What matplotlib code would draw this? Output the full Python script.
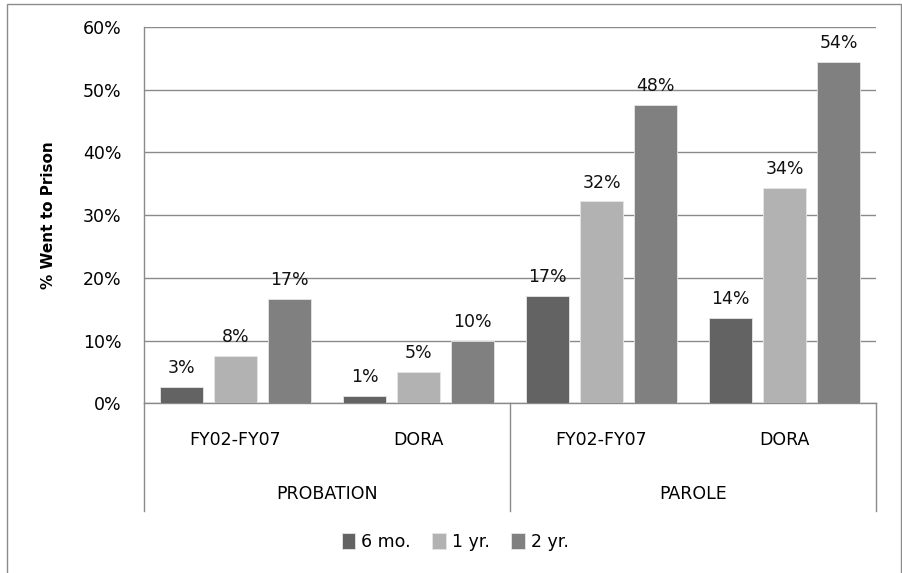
import numpy as np
import matplotlib
matplotlib.use("Agg")
import matplotlib.pyplot as plt
from matplotlib.patches import Rectangle
from matplotlib.ticker import FuncFormatter

# data
groups = ["PROBATION", "PAROLE"]
subgroups = ["FY02-FY07", "DORA", "FY02-FY07", "DORA"]
series = ["6 mo.", "1 yr.", "2 yr."]
six_mo = [2.6, 1.2, 17.1, 13.6]
one_yr = [7.6, 5.0, 32.2, 34.3]
two_yr = [16.6, 10.0, 47.6, 54.4]
labels_6 = ["3%", "1%", "17%", "14%"]
labels_1 = ["8%", "5%", "32%", "34%"]
labels_2 = ["17%", "10%", "48%", "54%"]

colors = ["#636363", "#b2b2b2", "#808080"]
grid_col = "#8a8a8a"
fs = 12.5

plt.rcParams['font.family'] = ['DejaVu Sans']

fig = plt.figure(figsize=(9.02, 5.73), dpi=100)
W, H = 902, 573
ax = fig.add_axes([144 / W, 1 - 403.3 / H, 732 / W, 376.3 / H])

x = np.arange(len(subgroups))
step = 0.295
width = 0.235
vals = [six_mo, one_yr, two_yr]
labs = [labels_6, labels_1, labels_2]
for i in range(3):
    bars = ax.bar(x + (i - 1) * step, vals[i], width, color=colors[i],
                  edgecolor="#e6e6e6", linewidth=0.6, label=series[i], zorder=3)
    ax.bar_label(bars, labels=labs[i], padding=7, fontsize=fs, color="#111111")

ax.set_xlim(-0.5, 3.5)
ax.set_ylim(0, 60)
ax.set_yticks(np.arange(0, 61, 10))
ax.yaxis.set_major_formatter(FuncFormatter(lambda v, p: "%d%%" % v))
ax.tick_params(axis="y", length=0, pad=16, labelsize=fs)
ax.set_xticks([])
ax.grid(axis="y", color=grid_col, linewidth=1.0, zorder=0)

for s in ["top", "right"]:
    ax.spines[s].set_visible(False)
ax.spines["left"].set_color(grid_col)
ax.spines["bottom"].set_color(grid_col)
ax.spines["left"].set_linewidth(1.0)
ax.spines["bottom"].set_linewidth(1.0)

ax.set_ylabel("% Went to Prison", fontsize=11, fontweight="bold")
ax.yaxis.set_label_coords((56 - 144) / 732, 0.5)

# category axis (two levels)
tr = ax.get_xaxis_transform()
for i, s in enumerate(subgroups):
    ax.text(x[i], -0.0975, s, transform=tr, ha="center", va="center", fontsize=fs)
for j, g in enumerate(groups):
    ax.text(2 * j + 0.5, -0.241, g, transform=tr, ha="center", va="center", fontsize=fs)
for xd in [-0.5, 1.5, 3.5]:
    ax.plot([xd, xd], [0, -0.286], transform=tr, color=grid_col, linewidth=1.0,
            clip_on=False)

fig.legend(loc="center", bbox_to_anchor=(455 / W, 1 - 542 / H), ncol=3,
           frameon=False, fontsize=fs, handlelength=0.8, handleheight=1.0,
           handletextpad=0.35, columnspacing=1.2)

# outer chart border
fig.add_artist(Rectangle((7 / W, -0.1), 894 / W, 1.1 - 4 / H, transform=fig.transFigure,
                         fill=False, edgecolor="#8c8c8c", linewidth=1.0))

fig.savefig("out.png", dpi=100)
